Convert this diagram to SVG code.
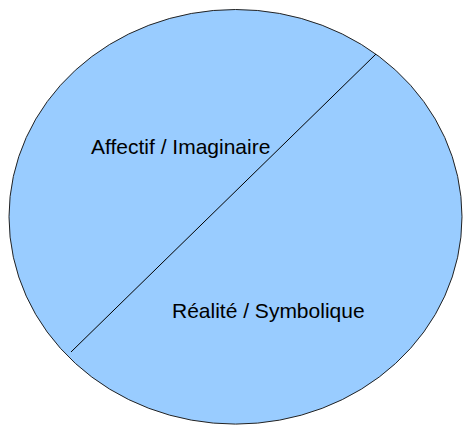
<svg xmlns="http://www.w3.org/2000/svg" width="463" height="428" viewBox="0 0 463 428">
<style>
.lbl{font-family:"Liberation Sans",Arial,sans-serif;font-size:21px;fill:#000}
</style>
<rect width="463" height="428" fill="#fff"/>
<g id="circle">
<ellipse cx="235.5" cy="216.8" rx="226.5" ry="207.3" fill="#99ccff" stroke="#222" stroke-width="1"/>
</g>
<g id="connectors">
<line x1="376" y1="54" x2="71" y2="352" stroke="#000" stroke-width="1"/>
</g>
<g id="label-top">
<text class="lbl" x="91" y="154">Affectif / Imaginaire</text>
</g>
<g id="label-bottom">
<text class="lbl" x="172" y="318">Réalité / Symbolique</text>
</g>
</svg>
